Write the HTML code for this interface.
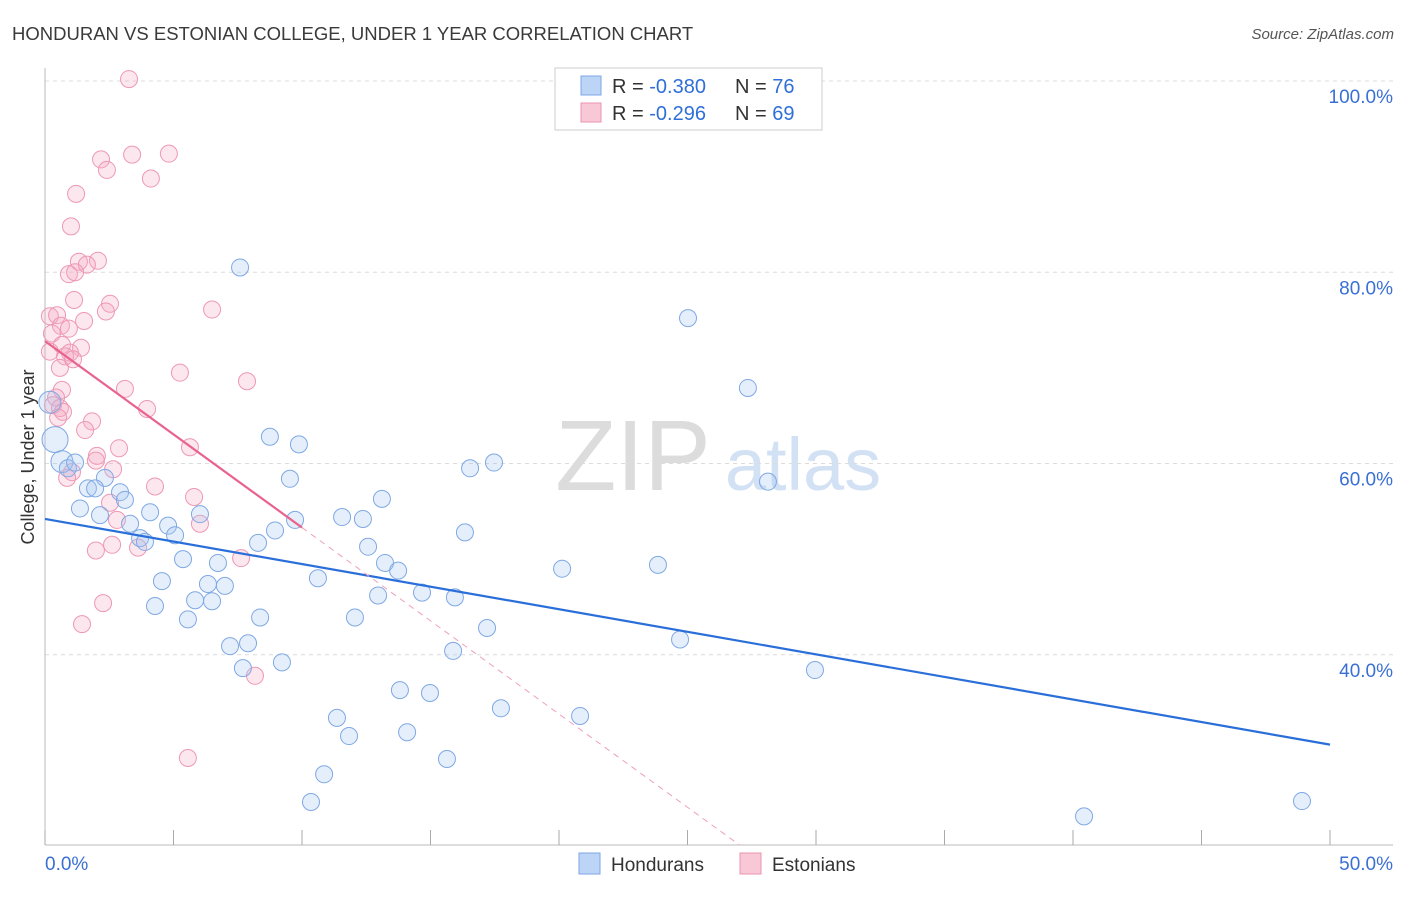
<!DOCTYPE html>
<html><head><meta charset="utf-8"><style>
body{margin:0;background:#fff;font-family:"Liberation Sans",sans-serif;}
svg text{font-family:"Liberation Sans",sans-serif;}
</style></head><body>
<svg id="chart" width="1406" height="892" viewBox="0 0 1406 892" xmlns="http://www.w3.org/2000/svg">
<text x="12" y="40" font-size="18.5" fill="#3a3a3a">HONDURAN VS ESTONIAN COLLEGE, UNDER 1 YEAR CORRELATION CHART</text>
<text x="1394" y="39" font-size="15" fill="#555" font-style="italic" text-anchor="end">Source: ZipAtlas.com</text>
<g>
<text x="633" y="490" font-size="100" fill="#dcdcdc" text-anchor="middle" font-family="Liberation Serif,serif">ZIP</text>
<text x="803" y="490" font-size="74" fill="#d3e1f5" text-anchor="middle">atlas</text>
</g>
<g id="grid"></g>
<g id="axes"></g>
<g id="marks"></g>
<g id="trend"></g>
<g>
<rect x="555" y="68" width="267" height="62" fill="#fff" stroke="#ccc"/>
<rect x="581" y="76" width="20" height="19" fill="#bcd4f6" stroke="#7ea6e6"/>
<rect x="581" y="103" width="20" height="19" fill="#f9c8d6" stroke="#ec93ae"/>
<text x="612" y="93" font-size="20" fill="#333">R = <tspan fill="#2f6fd8">-0.380</tspan><tspan x="735">N = </tspan><tspan fill="#2f6fd8">76</tspan></text>
<text x="612" y="120" font-size="20" fill="#333">R = <tspan fill="#2f6fd8">-0.296</tspan><tspan x="735">N = </tspan><tspan fill="#2f6fd8">69</tspan></text>
</g>
<g>
<rect x="579" y="853" width="21" height="21" fill="#bcd4f6" stroke="#7ea6e6"/>
<text x="611" y="871" font-size="19" fill="#333">Hondurans</text>
<rect x="740" y="853" width="21" height="21" fill="#f9c8d6" stroke="#ec93ae"/>
<text x="772" y="871" font-size="19" fill="#333">Estonians</text>
</g>
<text transform="translate(34,457) rotate(-90)" font-size="18" fill="#333" text-anchor="middle">College, Under 1 year</text>
</svg>
<script>
const yTicks=[100,80,60,40];
const yTickLabels=["100.0%","80.0%","60.0%","40.0%"];
const xTickVals=[0,5,10,15,20,25,30,35,40,45,50];
const xEndLabels=["0.0%","50.0%"];
const hondX=[7.59,25.02,27.35,8.75,9.88,0.39,0.66,0.89,1.17,9.53,16.54,17.47,28.13,2.33,1.67,1.95,2.92,3.11,13.11,1.36,2.14,4.09,6.03,9.73,11.56,12.37,3.31,4.79,5.06,3.70,3.89,8.95,8.29,16.34,12.57,5.37,6.73,13.23,13.74,20.12,23.85,10.62,4.55,6.34,7.00,12.96,14.67,15.95,5.84,6.50,4.28,5.56,8.37,12.06,17.20,24.71,7.20,7.90,15.88,9.22,7.70,29.96,13.81,14.98,17.74,20.82,11.36,14.09,11.83,10.86,15.64,10.35,40.43,48.91,0.19];
const hondY=[80.5,75.2,67.9,62.8,62.0,62.5,60.2,59.5,60.1,58.4,59.5,60.1,58.1,58.5,57.4,57.4,57.0,56.2,56.3,55.3,54.6,54.9,54.7,54.1,54.4,54.2,53.7,53.5,52.5,52.2,51.8,53.0,51.7,52.8,51.3,50.0,49.6,49.6,48.8,49.0,49.4,48.0,47.7,47.4,47.2,46.2,46.5,46.0,45.7,45.6,45.1,43.7,43.9,43.9,42.8,41.6,40.9,41.2,40.4,39.2,38.6,38.4,36.3,36.0,34.4,33.6,33.4,31.9,31.5,27.5,29.1,24.6,23.1,24.7,66.4];
const hondBig=[5,6,74];
const estX=[3.27,2.18,3.39,4.82,2.41,4.12,1.21,1.01,2.06,1.32,1.63,0.93,1.17,1.13,2.53,6.50,2.37,0.19,0.47,1.52,0.62,0.27,0.93,0.66,1.40,0.19,0.97,0.78,1.09,0.58,5.25,7.86,3.11,0.66,0.43,0.31,0.58,0.70,3.97,1.83,0.51,1.56,5.64,2.88,2.02,1.98,2.65,1.05,0.86,4.28,5.80,2.53,2.80,6.03,2.61,3.62,1.98,7.63,2.26,1.44,8.17,5.56];
const estY=[100.2,91.8,92.3,92.4,90.7,89.8,88.2,84.8,81.2,81.1,80.8,79.8,80.0,77.1,76.7,76.1,75.9,75.4,75.5,74.9,74.4,73.6,74.1,72.4,72.1,71.7,71.6,71.2,70.9,70.0,69.5,68.6,67.8,67.7,66.9,66.1,65.8,65.4,65.7,64.4,64.8,63.5,61.7,61.6,60.8,60.3,59.4,59.1,58.5,57.6,56.5,55.9,54.1,53.7,51.5,51.2,50.9,50.1,45.4,43.2,37.8,29.2];
const blueTrend=[54.2,30.6];
const pinkTrend=[72.8,-1.95];
const pinkSolidEnd=10;

const NS="http://www.w3.org/2000/svg";
const X=v=>45+v*25.7;
const Y=v=>81+(100-v)*9.5625;
function mk(tag,attrs,parent){const e=document.createElementNS(NS,tag);for(const k in attrs)e.setAttribute(k,attrs[k]);parent.appendChild(e);return e;}
const grid=document.getElementById('grid'),axes=document.getElementById('axes'),marks=document.getElementById('marks'),trend=document.getElementById('trend');
yTicks.forEach((t,i)=>{
 const l=mk('line',{x1:45,x2:1393,y1:Y(t),y2:Y(t),stroke:'#dcdcdc','stroke-dasharray':'4,4'},grid);
 
 
 const tx=mk('text',{x:1393,y:Y(t)+22,'font-size':19,fill:'#3a70d4','text-anchor':'end'},axes);
 tx.textContent=yTickLabels[i];
 
 
});
let a=mk('line',{x1:45,x2:45,y1:68,y2:845,stroke:'#bbb'},axes);


a=mk('line',{x1:45,x2:1393,y1:845,y2:845,stroke:'#bbb'},axes);


xTickVals.forEach(v=>{
 const t=mk('line',{x1:X(v),x2:X(v),y1:830,y2:845,stroke:'#aaa'},axes);
 
 
});
let t0=mk('text',{x:45,y:870,'font-size':19,fill:'#3a70d4'},axes);t0.textContent=xEndLabels[0];


let t1=mk('text',{x:1393,y:870,'font-size':19,fill:'#3a70d4','text-anchor':'end'},axes);t1.textContent=xEndLabels[1];



estX.forEach((x,i)=>{
 const c=mk('circle',{cx:X(x),cy:Y(estY[i]),r:8.5,fill:'rgba(246,170,195,0.28)',stroke:'#ee98b4','stroke-width':1},marks);
 
 
});
hondX.forEach((x,i)=>{
 const r=hondBig.includes(i)?(i===5?13:11):8.5;
 const c=mk('circle',{cx:X(x),cy:Y(hondY[i]),r:r,fill:'rgba(160,196,242,0.28)',stroke:'#7fa8e4','stroke-width':1},marks);
 
 
});
let bl=mk('line',{x1:X(0),y1:Y(blueTrend[0]),x2:X(50),y2:Y(blueTrend[1]),stroke:'#2a6fd9','stroke-width':2.2},trend);


const py=x=>pinkTrend[0]+pinkTrend[1]*x;
const xEnd=(20.1-pinkTrend[0])/pinkTrend[1];
let pl=mk('line',{x1:X(0),y1:Y(py(0)),x2:X(pinkSolidEnd),y2:Y(py(pinkSolidEnd)),stroke:'#e8638e','stroke-width':2.2},trend);


let pd=mk('line',{x1:X(pinkSolidEnd),y1:Y(py(pinkSolidEnd)),x2:X(xEnd),y2:Y(py(xEnd)),stroke:'#eea0b8','stroke-width':1,'stroke-dasharray':'6,5'},trend);


</script>
</body></html>
